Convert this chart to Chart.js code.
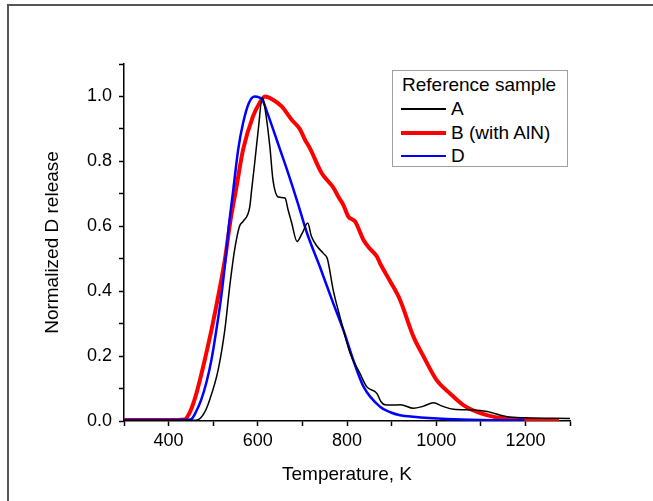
<!DOCTYPE html>
<html>
<head>
<meta charset="utf-8">
<script src="https://cdn.jsdelivr.net/npm/chart.js@4/dist/chart.umd.min.js"></script>
<style>
  body { margin: 0; background: #fff; font-family: "Liberation Sans", Arial, sans-serif; }
  #wrap { position: relative; width: 653px; height: 501px; overflow: hidden; }
  #frame { position: absolute; left: 7px; top: 4px; width: 700px; height: 600px; border-left: 2px solid #555; border-top: 2px solid #555; }
  #chart { position: absolute; left: 0; top: 0; }
  #legend { position: absolute; left: 392px; top: 70px; width: 174px; height: 95px; border: 1px solid #a0a0a0; background: #fff; font-size: 19px; color: #000; }
  #legend .ttl { position: absolute; left: 9px; top: 3px; white-space: nowrap; }
  #legend .row { position: absolute; left: 8px; height: 22px; white-space: nowrap; }
  #legend .sw { position: absolute; left: 0; width: 45px; }
  #legend .lb { position: absolute; left: 50px; top: 0; line-height: 22px; }
</style>
</head>
<body>
<div id="wrap">
  <div id="frame"></div>
  <canvas id="chart" width="653" height="501"></canvas>
  <div id="legend"></div>
</div>
<script>
let seriesNames = ['A', 'B (with AlN)', 'D']
let seriesColors = ['#000000', '#ff0000', '#0000ff']
let seriesWidths = [1.5, 4, 2.5]
let legendTitle = 'Reference sample'

let tempA = [300, 400, 455, 466, 480, 492, 511, 526, 537, 548, 559, 567, 582, 586, 593, 601, 610, 614, 627, 634, 646, 661, 668, 676, 688, 700, 712, 720, 732, 748, 756, 769, 784, 807, 829, 844, 867, 876, 885, 900, 920, 949, 970, 994, 1015, 1039, 1084, 1114, 1159, 1200, 1300]
let valA = [0.002, 0.002, 0.002, 0.004, 0.025, 0.065, 0.157, 0.28, 0.414, 0.527, 0.6, 0.615, 0.66, 0.71, 0.795, 0.897, 0.995, 0.98, 0.846, 0.743, 0.69, 0.687, 0.65, 0.61, 0.553, 0.58, 0.61, 0.57, 0.54, 0.515, 0.5, 0.404, 0.322, 0.209, 0.147, 0.106, 0.085, 0.06, 0.05, 0.049, 0.05, 0.039, 0.045, 0.056, 0.045, 0.036, 0.034, 0.029, 0.013, 0.01, 0.008]

let tempB = [300, 400, 436, 447, 458, 470, 481, 496, 511, 526, 539, 552, 567, 589, 604, 616, 634, 653, 676, 694, 706, 717, 743, 769, 781, 792, 803, 818, 837, 852, 867, 874, 897, 919, 949, 972, 1001, 1031, 1061, 1099, 1136, 1196, 1275]
let valB = [0.003, 0.003, 0.005, 0.025, 0.065, 0.125, 0.188, 0.28, 0.383, 0.496, 0.62, 0.72, 0.836, 0.938, 0.98, 1.0, 0.99, 0.97, 0.928, 0.9, 0.866, 0.84, 0.764, 0.72, 0.69, 0.665, 0.63, 0.615, 0.558, 0.53, 0.507, 0.486, 0.43, 0.373, 0.26, 0.198, 0.126, 0.085, 0.049, 0.024, 0.011, 0.005, 0.003]

let tempD = [300, 400, 440, 451, 462, 473, 485, 496, 507, 518, 527, 535, 545, 556, 567, 580, 593, 610, 620, 649, 668, 690, 710, 739, 769, 792, 814, 837, 874, 897, 919, 949, 1024, 1099, 1198]
let valD = [0.003, 0.003, 0.004, 0.006, 0.03, 0.065, 0.12, 0.188, 0.28, 0.383, 0.49, 0.6, 0.712, 0.836, 0.918, 0.98, 1.0, 0.99, 0.955, 0.84, 0.764, 0.67, 0.58, 0.476, 0.363, 0.28, 0.188, 0.106, 0.044, 0.027, 0.018, 0.013, 0.006, 0.003, 0.002]

function toPoints(xs, ys) {
  return xs.map(function(x, i) { return { x: x, y: ys[i] } })
}

let allTemps = [tempA, tempB, tempD]
let allVals = [valA, valB, valD]

let datasets = seriesNames.map(function(name, i) {
  return {
    label: name,
    data: toPoints(allTemps[i], allVals[i]),
    borderColor: seriesColors[i],
    borderWidth: seriesWidths[i],
    pointRadius: 0,
    cubicInterpolationMode: 'monotone',
    fill: false
  }
})

// draw B first so black/blue sit on top of the thick red line
datasets[0].order = 0
datasets[2].order = 1
datasets[1].order = 2

let tickFont = { family: 'Liberation Sans', size: 18 }
let titleFont = { family: 'Liberation Sans', size: 19 }

let ctx = document.getElementById('chart').getContext('2d')
let chart = new Chart(ctx, {
  type: 'line',
  data: { datasets: datasets },
  options: {
    responsive: false,
    animation: false,
    layout: { padding: { top: 64, right: 83, bottom: 0, left: 0 } },
    plugins: { legend: { display: false }, tooltip: { enabled: false } },
    scales: {
      x: {
        type: 'linear',
        min: 300,
        max: 1300,
        afterFit: function(scale) { scale.height = 80 },
        ticks: {
          stepSize: 100,
          autoSkip: false,
          maxRotation: 0,
          color: '#000',
          font: tickFont,
          padding: 4,
          callback: function(v) { return v % 200 === 0 ? String(v) : '' }
        },
        grid: { drawOnChartArea: false, tickLength: 5, tickColor: '#000', tickWidth: 1.5 },
        border: { display: true, color: '#000', width: 1.5 },
        title: { display: true, text: 'Temperature, K', color: '#000', font: titleFont, padding: { top: 0, bottom: 15 } }
      },
      y: {
        type: 'linear',
        min: 0,
        max: 1.1,
        afterFit: function(scale) { scale.width = 124 },
        ticks: {
          stepSize: 0.1,
          autoSkip: false,
          color: '#000',
          font: tickFont,
          padding: 7,
          callback: function(v) { return Math.round(v * 10) % 2 === 0 ? v.toFixed(1) : '' }
        },
        grid: { drawOnChartArea: false, tickLength: 5, tickColor: '#000', tickWidth: 1.5 },
        border: { display: true, color: '#000', width: 1.5 },
        title: { display: true, text: 'Normalized D release', color: '#000', font: titleFont, padding: { top: 41, bottom: 0 } }
      }
    }
  }
})

// legend box built from the datasets
let legend = document.getElementById('legend')
let ttl = document.createElement('div')
ttl.className = 'ttl'
ttl.textContent = legendTitle
legend.appendChild(ttl)
chart.data.datasets.forEach(function(ds, i) {
  let row = document.createElement('div')
  row.className = 'row'
  row.style.top = (27 + i * 23.5) + 'px'
  let sw = document.createElement('div')
  sw.className = 'sw'
  sw.style.height = ds.borderWidth + 'px'
  sw.style.top = (11 - ds.borderWidth / 2) + 'px'
  sw.style.background = ds.borderColor
  let lb = document.createElement('div')
  lb.className = 'lb'
  lb.textContent = ds.label
  row.appendChild(sw)
  row.appendChild(lb)
  legend.appendChild(row)
})
</script>
</body>
</html>
